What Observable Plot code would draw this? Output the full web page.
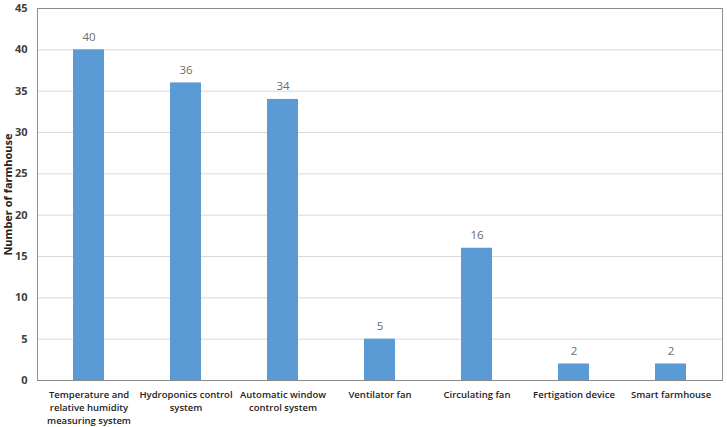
<!DOCTYPE html>
<html>
<head>
<meta charset="utf-8">
<script src="https://cdn.jsdelivr.net/npm/d3@7"></script>
<script src="https://cdn.jsdelivr.net/npm/@observablehq/plot@0.6"></script>
<style>
  body { margin: 0; background: #fff; }
</style>
</head>
<body>
<div id="chart"></div>
<script>
const categories = [
  "Temperature and relative humidity measuring system",
  "Hydroponics control system",
  "Automatic window control system",
  "Ventilator fan",
  "Circulating fan",
  "Fertigation device",
  "Smart farmhouse"
];
const tickLabels = [
  "Temperature and\nrelative humidity\nmeasuring system",
  "Hydroponics control\nsystem",
  "Automatic window\ncontrol system",
  "Ventilator fan",
  "Circulating fan",
  "Fertigation device",
  "Smart farmhouse"
];
const values = [40, 36, 34, 5, 16, 2, 2];
const yTicks = [0, 5, 10, 15, 20, 25, 30, 35, 40, 45];

const data = categories.map((c, i) => ({category: c, value: values[i]}));
const labelOf = new Map(categories.map((c, i) => [c, tickLabels[i]]));

const chart = Plot.plot({
  width: 727,
  height: 427,
  marginLeft: 37,
  marginRight: 5,
  marginTop: 8,
  marginBottom: 47,
  style: {fontFamily: "'Open Sans', 'Noto Sans', sans-serif", background: "#fff"},
  x: {domain: categories, paddingInner: 0.68, paddingOuter: 0.34},
  y: {domain: [0, 45]},
  marks: [
    Plot.gridY(yTicks, {stroke: "#d9d9d9", strokeOpacity: 1}),
    Plot.barY(data, {x: "category", y: "value", fill: "#5b9bd5"}),
    Plot.text(data, {x: "category", y: "value", text: d => String(d.value), dy: -13, fill: "#6b6b6b", fontSize: 11.5}),
    Plot.frame({stroke: "#8c8c8c"}),
    Plot.axisY(yTicks, {tickSize: 0, tickPadding: 10, fontSize: 11, fontWeight: "bold", fill: "#404040",
      label: "Number of farmhouse", labelAnchor: "center", labelArrow: "none", labelOffset: 33}),
    Plot.axisX({tickSize: 0, tickPadding: 8, fontSize: 9.5, fontWeight: "600", fill: "#222",
      lineHeight: 1.37, textAnchor: "middle", lineAnchor: "top",
      tickFormat: c => labelOf.get(c), label: null})
  ]
});
document.getElementById("chart").appendChild(chart);
chart.querySelectorAll("text").forEach(t => {
  if (t.textContent === "Number of farmhouse") { t.setAttribute("font-weight", "bold"); t.setAttribute("font-size", "11"); t.setAttribute("fill", "#222"); }
});
</script>
</body>
</html>
